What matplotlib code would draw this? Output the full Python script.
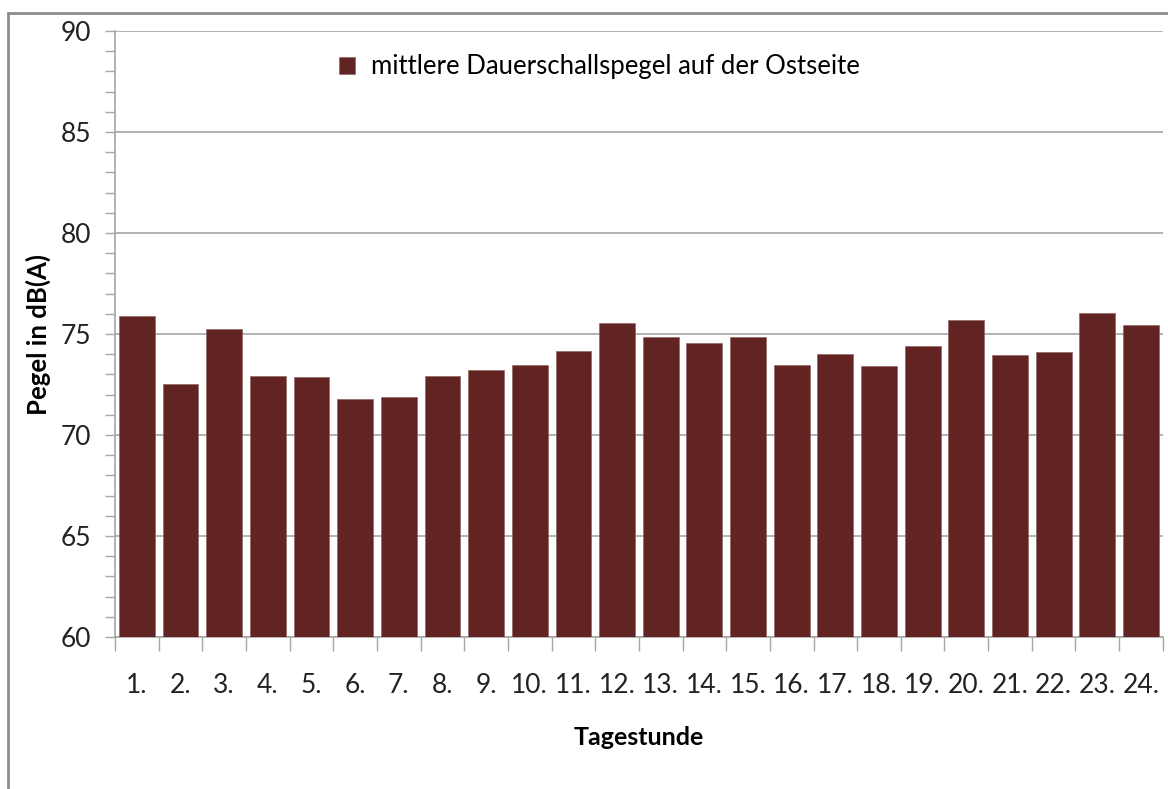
import matplotlib.pyplot as plt
from matplotlib.patches import Rectangle
from matplotlib.ticker import MultipleLocator

# data
hours = ['1.', '2.', '3.', '4.', '5.', '6.', '7.', '8.', '9.', '10.', '11.', '12.',
         '13.', '14.', '15.', '16.', '17.', '18.', '19.', '20.', '21.', '22.', '23.', '24.']
pegel = [75.9, 72.55, 75.27, 72.9, 72.85, 71.76, 71.86, 72.9, 73.2, 73.49, 74.18, 75.57,
         74.83, 74.58, 74.83, 73.49, 74.03, 73.44, 74.43, 75.67, 73.98, 74.13, 76.06, 75.47]

plt.rcParams['font.family'] = ['Lato', 'DejaVu Sans']

fig = plt.figure(figsize=(11.68, 7.89), dpi=100)
ax = fig.add_axes([0.0985, 0.1926, 0.897, 0.7681])

# outer chart frame
fig.patches.append(Rectangle((8 / 1168, -0.1), 1.2, 1 - 12.5 / 789 + 0.1,
                             transform=fig.transFigure, fill=False,
                             edgecolor='#8c8c8c', linewidth=2))

x = range(len(hours))
ax.bar(x, pegel, width=0.82, color='#622423', edgecolor='#8a5a58', linewidth=0.4,
       label='mittlere Dauerschallspegel auf der Ostseite', zorder=3)

ax.set_xlim(-0.5, len(hours) - 0.5)
ax.set_ylim(60, 90)
ax.yaxis.set_major_locator(MultipleLocator(5))
ax.yaxis.set_minor_locator(MultipleLocator(1))
ax.set_xticks(x)
ax.set_xticklabels(hours)
ax.set_xticks([i - 0.5 for i in range(len(hours) + 1)], minor=True)

ax.grid(axis='y', which='major', color='#a6a6a6', linewidth=1.2, zorder=0)
for s in ['top', 'right']:
    ax.spines[s].set_visible(False)
for s in ['left', 'bottom']:
    ax.spines[s].set_color('#a6a6a6')
    ax.spines[s].set_linewidth(1.2)

ax.tick_params(axis='y', which='both', length=7, width=1, color='#a6a6a6', labelsize=19,
               labelcolor='#222222', pad=10)
ax.tick_params(axis='x', which='major', length=0, labelsize=19, labelcolor='#222222', pad=26)
ax.tick_params(axis='x', which='minor', length=10, width=1, color='#a6a6a6')

ax.set_ylabel('Pegel in dB(A)', fontsize=18.5, fontweight='bold', labelpad=7)
ax.set_xlabel('Tagestunde', fontsize=18, fontweight='bold', labelpad=20)

ax.legend(loc='upper center', bbox_to_anchor=(0.462, 1.0), frameon=False, fontsize=18.5,
          handlelength=0.65, handleheight=0.65, handletextpad=0.6)

plt.savefig('out.png', dpi=100)
